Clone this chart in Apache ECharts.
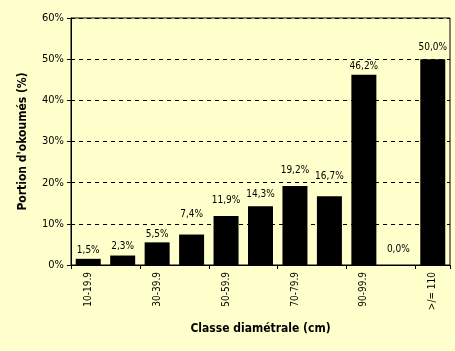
<!DOCTYPE html>
<html>
<head>
<meta charset="utf-8">
<script src="https://cdn.jsdelivr.net/npm/echarts@6/dist/echarts.min.js"></script>
<style>
  html, body { margin: 0; padding: 0; background: #FFFFCC; }
  #chart { width: 455px; height: 351px; }
</style>
</head>
<body>
<div id="chart"></div>
<script>
// classes de diamètre et portion d'okoumés (%)
const categories = ['10-19.9', '20-29.9', '30-39.9', '40-49.9', '50-59.9', '60-69.9',
    '70-79.9', '80-89.9', '90-99.9', '100-109.9', '>/= 110'];
const values = [1.5, 2.3, 5.5, 7.4, 11.9, 14.3, 19.2, 16.7, 46.2, 0.0, 50.0];

// écart étiquette / barre (comme sur l'original)
const labelGap = [3, 4, 3, 15, 11, 7, 11, 15, 3, 11, 7];

const font = '"Liberation Sans Narrow", "DejaVu Sans Condensed", sans-serif';

const myChart = echarts.init(document.getElementById('chart'));
const option = {
    backgroundColor: '#FFFFCC',
    animation: false,
    grid: {
        left: 71,
        right: 5,
        top: 18,
        bottom: 86,
        show: true,
        borderColor: '#000',
        borderWidth: 1,
    },
    xAxis: {
        type: 'category',
        data: categories,
        name: 'Classe diamétrale (cm)',
        nameLocation: 'middle',
        nameGap: 58,
        nameTextStyle: { fontFamily: font, fontWeight: 'bold', fontSize: 12, color: '#000' },
        axisLine: { lineStyle: { color: '#000', width: 1 } },
        axisTick: { show: true, length: 4, lineStyle: { color: '#000' } },
        axisLabel: {
            rotate: 90,
            interval: 1,
            margin: 7,
            fontFamily: font,
            fontSize: 10,
            color: '#000',
        },
    },
    yAxis: {
        type: 'value',
        min: 0,
        max: 60,
        interval: 10,
        name: "Portion d'okoumés (%)",
        nameLocation: 'middle',
        nameGap: 42,
        nameTextStyle: { fontFamily: font, fontWeight: 'bold', fontSize: 12, color: '#000' },
        axisLine: { show: true, lineStyle: { color: '#000', width: 1 } },
        axisTick: { show: true, length: 4, lineStyle: { color: '#000' } },
        axisLabel: {
            formatter: '{value}%',
            margin: 7,
            fontFamily: font,
            fontSize: 11,
            color: '#000',
        },
        splitLine: { lineStyle: { color: '#000', type: [4, 4], width: 1 } },
    },
    series: [
        {
            type: 'bar',
            data: values.map((v, i) => ({ value: v, label: { distance: labelGap[i] } })),
            barWidth: 25,
            itemStyle: { color: '#000' },
            label: {
                show: true,
                position: 'top',
                fontFamily: font,
                fontSize: 10,
                color: '#000',
                formatter: p => p.value.toFixed(1).replace('.', ',') + '%',
            },
        },
    ],
};
myChart.setOption(option);
</script>
</body>
</html>
